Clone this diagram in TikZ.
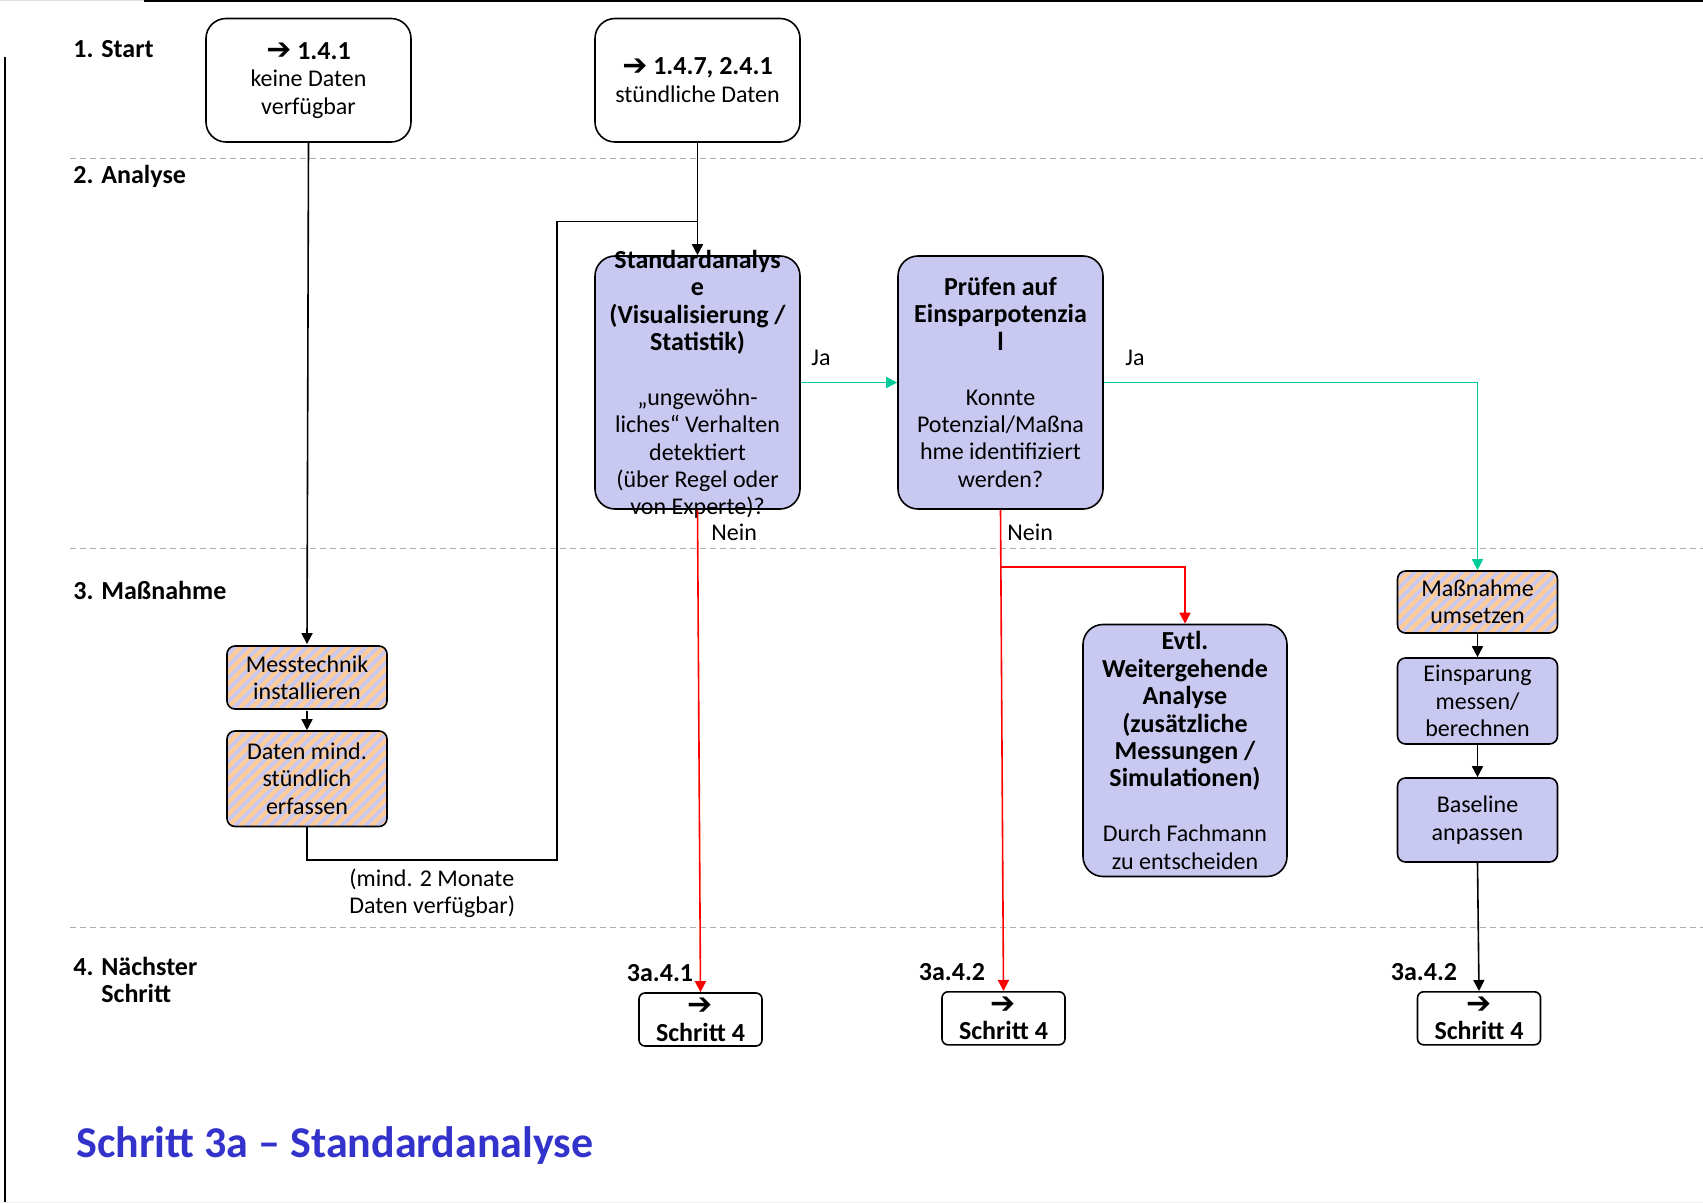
\documentclass[tikz,border=0pt]{standalone}
\usepackage{fontspec}
\setmainfont{Carlito}
\newfontfamily\arrowfont{DejaVu Sans}
\usetikzlibrary{arrows.meta,patterns.meta}

\definecolor{lav}{RGB}{200,200,240}
\definecolor{peach}{RGB}{255,204,153}
\definecolor{okgreen}{RGB}{0,204,153}
\definecolor{nored}{RGB}{255,0,0}
\definecolor{titleblue}{RGB}{51,51,204}
\definecolor{lanegray}{RGB}{175,175,175}

% bold heading line inside a box
\newcommand\hd[1]{{\fontsize{13}{13.7}\selectfont\bfseries #1}}
% heavy right arrow
\newcommand\myarrow{\raisebox{-0.3pt}{\arrowfont\fontsize{15}{13.7}\selectfont ➔}}

\tikzset{
  every node/.style={font=\fontsize{12}{13.7}\selectfont, inner sep=0pt},
  box/.style={draw, line width=0.8pt, align=center},
  startbox/.style={box, fill=white, rounded corners=10pt,
    minimum width=102.5pt, minimum height=61.75pt},
  procbox/.style={box, fill=lav, rounded corners=10pt,
    minimum width=102.5pt, minimum height=126.5pt},
  hatchbox/.style={box, rounded corners=4pt, preaction={fill=peach},
    pattern={Lines[angle=45,distance=4.2pt,line width=1.9pt]},
    pattern color=lav, minimum width=80pt},
  smallbox/.style={box, fill=lav, rounded corners=4pt, minimum width=80pt},
  nextbox/.style={box, fill=white, rounded corners=3pt,
    minimum width=61.5pt, minimum height=26.5pt},
  lane/.style={draw=lanegray, line width=0.9pt, dash pattern=on 3pt off 2pt},
  lanelabel/.style={anchor=west, align=left,
    font=\fontsize{13}{13.7}\selectfont\bfseries},
  wire/.style={line width=0.8pt},
  flow/.style={wire, -{Triangle[length=5.5pt,width=5.5pt]}},
  yes/.style={flow, draw=okgreen, -{Triangle[length=5.5pt,width=5.5pt,fill=okgreen]}},
  no/.style={flow, draw=nored, -{Triangle[length=5.5pt,width=5.5pt,fill=nored]}},
  tag/.style={anchor=west, align=left},
}

\begin{document}
\begin{tikzpicture}[x=0.5pt,y=-0.5pt]
\useasboundingbox (0,0) rectangle (1703,1203);

% page frame
\draw[gray!25, line width=1pt] (0,0.5) -- (144,0.5);
\draw[line width=1pt] (144,1.5) -- (1703,1.5);
\draw[line width=1pt] (4.5,57) -- (4.5,1203);
\draw[gray!12, line width=1pt] (0,1202.5) -- (1703,1202.5);

% swimlane separators
\draw[lane] (70,158.6) -- (1703,158.6);
\draw[lane] (70,548.5) -- (1703,548.5);
\draw[lane] (70,927.5) -- (1703,927.5);

% lane labels
\node[lanelabel] (lane1) at (73,49) {1. Start};
\node[lanelabel] (lane2) at (73,176) {2. Analyse};
\node[lanelabel] (lane3) at (73,590) {3. Maßnahme};
\node[lanelabel] (lane4) at (73,979.75) {4. Nächster\\\phantom{4. }Schritt};

% start boxes
\node[startbox] (A) at (308.5,80.25) {\hd{\myarrow\ 1.4.1}\\keine Daten\\verfügbar};
\node[startbox] (B) at (697.5,80.25) {\hd{\myarrow\ 1.4.7, 2.4.1}\\stündliche Daten};

% analysis boxes
\node[procbox] (C) at (697.5,382.5) {};
\node[align=center] (Ctext) at ([yshift=-1pt]C.center)
  {\hd{Standardanalys}\\\hd{e}\\\hd{(Visualisierung /}\\\hd{Statistik)}\\[13.7pt]%
   „ungewöhn-\\liches“ Verhalten\\detektiert\\(über Regel oder\\von Experte)?};
\node[procbox] (D) at (1000.5,382.5)
  {\hd{Prüfen auf}\\\hd{Einsparpotenzia}\\\hd{l}\\[13.7pt]%
   Konnte\\Potenzial/Maßna\\hme identifiziert\\werden?};
\node[procbox, minimum width=102pt, minimum height=126pt] (E) at (1185,750.5)
  {\hd{Evtl.}\\\hd{Weitergehende}\\\hd{Analyse}\\\hd{(zusätzliche}\\\hd{Messungen /}\\\hd{Simulationen)}\\[13.7pt]%
   Durch Fachmann\\zu entscheiden};

% measure boxes
\node[hatchbox, minimum height=31.5pt] (M1) at (307,677.5) {Messtechnik\\installieren};
\node[hatchbox, minimum height=47.75pt] (M2) at (307,778.75) {Daten mind.\\stündlich\\erfassen};
\node[hatchbox, minimum height=31pt] (N1) at (1477.5,602) {Maßnahme\\umsetzen};
\node[smallbox, minimum height=43pt] (N2) at (1477.5,701) {Einsparung\\messen/\\berechnen};
\node[smallbox, minimum height=42pt] (N3) at (1477.5,820) {Baseline\\anpassen};

% next-step boxes
\node[nextbox] (S1) at (700.5,1019.5) {\myarrow\\\hd{Schritt 4}};
\node[nextbox] (S2) at (1003.5,1018.3) {\myarrow\\\hd{Schritt 4}};
\node[nextbox] (S3) at (1479,1018.3) {\myarrow\\\hd{Schritt 4}};
\node (L1) at (660,973) {\hd{3a.4.1}};
\node (L2) at (952,972) {\hd{3a.4.2}};
\node (L3) at (1424,972) {\hd{3a.4.2}};

% no-data path: install metering, collect, then feed the analysis
\draw[flow] (A.south) -- (M1.north);
\draw[flow] (M1) -- (M2);
\coordinate (loopR) at (557,860);
\coordinate (loopT) at (557,221.7);
\coordinate (joinC) at (697.5,221.7);
\draw[wire] (M2.south) |- (loopR) -- (loopT) -- (joinC);
\draw[flow] (B.south) -- (C.north);
\node[tag] (note) at (349,893.5) {(mind. 2 Monate\\Daten verfügbar)};

% yes branches
\draw[yes] (C.east) -- (D.west);
\node[tag] (ja1) at (811,358) {Ja};
\draw[yes] (D.east) -| (N1.north);
\node[tag] (ja2) at (1125,358) {Ja};

% no branches
\draw[no] (C.south) -- (S1.north);
\node[tag] (nein1) at (711,532) {Nein};
\draw[no] (D.south) -- (S2.north);
\coordinate (branch) at (1000.9,566.7);
\draw[no] (branch) -| (E.north);
\node[tag] (nein2) at (1007,532) {Nein};

% implementation chain
\draw[flow] (N1) -- (N2);
\draw[flow] (N2) -- (N3);
\draw[flow] (N3.south) -- (S3.north);

% title
\node[anchor=west, font=\fontsize{22}{26}\selectfont\bfseries, text=titleblue]
  (title) at (76,1146) {Schritt 3a – Standardanalyse};
\end{tikzpicture}
\end{document}
